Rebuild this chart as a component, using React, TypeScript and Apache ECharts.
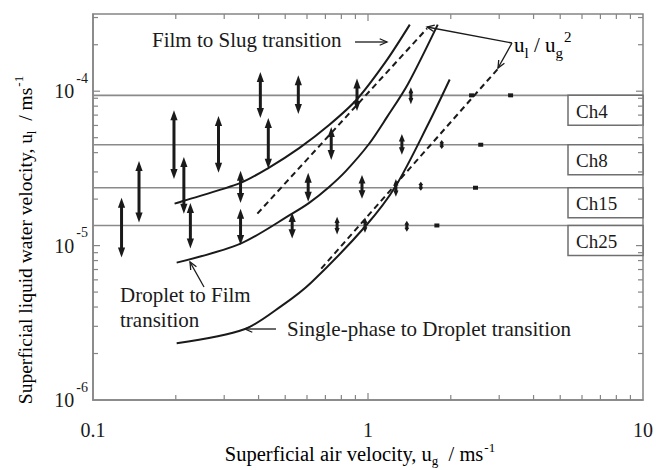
import React, { useEffect, useRef } from "react";
import * as echarts from "echarts";

const FONT = "Liberation Serif, Times New Roman, serif";
const INK = "#1a1a1a";
const AXIS = "#858585";
const LEVEL = "#8a8a8a";

// Channel water-supply levels, u_l (m/s)
const channelNames = ["Ch4", "Ch8", "Ch15", "Ch25"];
const channelLevels = [9.4e-5, 4.5e-5, 2.37e-5, 1.35e-5];

// Fluctuation ranges per channel: [u_g, u_l low, u_l high]
const ch4Ranges = [
  [0.406, 6.7e-5, 1.33e-4],
  [0.558, 7.11e-5, 1.27e-4],
  [0.912, 7.43e-5, 1.21e-4],
  [1.432, 8.24e-5, 1.06e-4],
];
const ch8Ranges = [
  [0.197, 2.7e-5, 7.53e-5],
  [0.286, 2.96e-5, 6.9e-5],
  [0.434, 3.14e-5, 6.7e-5],
  [0.735, 3.59e-5, 5.86e-5],
  [1.328, 3.87e-5, 5.29e-5],
  [1.854, 4.23e-5, 4.83e-5],
];
const ch15Ranges = [
  [0.147, 1.41e-5, 3.53e-5],
  [0.214, 1.61e-5, 3.75e-5],
  [0.344, 1.89e-5, 3.05e-5],
  [0.606, 1.92e-5, 2.96e-5],
  [0.951, 2.01e-5, 2.87e-5],
  [1.263, 2.07e-5, 2.7e-5],
  [1.556, 2.27e-5, 2.59e-5],
];
const ch25Ranges = [
  [0.127, 8.37e-6, 2.04e-5],
  [0.226, 9.57e-6, 1.89e-5],
  [0.344, 1.01e-5, 1.73e-5],
  [0.53, 1.11e-5, 1.63e-5],
  [0.772, 1.18e-5, 1.54e-5],
  [0.975, 1.21e-5, 1.52e-5],
  [1.384, 1.23e-5, 1.45e-5],
];

// Air velocities where the level stayed steady
const ch4Steady = [2.38, 3.3];
const ch8Steady = [2.57];
const ch15Steady = [2.46];
const ch25Steady = [1.78];

// Flow-regime transition boundaries [u_g, u_l]
const filmToSlug = [
  [0.198, 1.87e-5], [0.214, 1.95e-5], [0.344, 2.55e-5], [0.434, 3.18e-5],
  [0.562, 4.28e-5], [0.722, 6.04e-5], [0.912, 8.87e-5], [1.162, 1.56e-4],
  [1.419, 2.7e-4],
];
const dropletToFilm = [
  [0.2015, 7.76e-6], [0.344, 1.03e-5], [0.53, 1.61e-5], [0.611, 1.89e-5],
  [0.722, 2.4e-5], [0.832, 3.05e-5], [1.008, 4.55e-5], [1.172, 6.79e-5],
  [1.396, 1.11e-4], [1.793, 2.7e-4],
];
const singleToDroplet = [
  [0.2015, 2.33e-6], [0.355, 2.87e-6], [0.488, 4.1e-6], [0.622, 5.77e-6],
  [0.984, 1.35e-5], [1.263, 2.44e-5], [1.663, 6.22e-5], [1.982, 1.19e-4],
];

// Constant u_l / u_g^2 reference lines
const ratioUpper = [[0.396, 1.61e-5], [1.64, 2.55e-4]];
const ratioLower = [[0.676, 7.1e-6], [2.96, 1.39e-4]];

// Axis ranges and ticks
const xMin = 0.1;
const xMax = 10;
const yMin = 1e-6;
const yMax = 3.1623e-4;
const xMinorTicks = [0.2, 0.3, 0.4, 0.5, 0.6, 0.7, 0.8, 0.9, 2, 3, 4, 5, 6, 7, 8, 9];
const xMajorTicks = [1];
const yMinorTicks = [
  2e-6, 3e-6, 4e-6, 5e-6, 6e-6, 7e-6, 8e-6, 9e-6,
  2e-5, 3e-5, 4e-5, 5e-5, 6e-5, 7e-5, 8e-5, 9e-5,
  2e-4, 3e-4,
];
const yMajorTicks = [1e-5, 1e-4];
const xTickLabels: Record<string, string> = { "-1": "0.1", "0": "1", "1": "10" };

function isDecade(v: number) {
  const l = Math.log10(v);
  return Math.abs(l - Math.round(l)) < 1e-6;
}

function arrowItem(params: any, api: any) {
  const x = api.value(0);
  const lo = api.value(1);
  const hi = api.value(2);
  const a = api.coord([x, hi]);
  const b = api.coord([x, lo]);
  const cx = a[0];
  const len = b[1] - a[1];
  if (len < 6) {
    const mid = (a[1] + b[1]) / 2;
    return {
      type: "rect",
      shape: { x: cx - 2.5, y: mid - 2, width: 5, height: 4 },
      style: { fill: INK },
    };
  }
  const h = Math.min(10, len * 0.36);
  const w = Math.min(3.6, Math.max(2.4, h * 0.4));
  return {
    type: "group",
    children: [
      {
        type: "line",
        shape: { x1: cx, y1: a[1] + h * 0.7, x2: cx, y2: b[1] - h * 0.7 },
        style: { stroke: INK, lineWidth: 3 },
      },
      {
        type: "polygon",
        shape: { points: [[cx, a[1]], [cx - w, a[1] + h], [cx + w, a[1] + h]] },
        style: { fill: INK },
      },
      {
        type: "polygon",
        shape: { points: [[cx, b[1]], [cx - w, b[1] - h], [cx + w, b[1] - h]] },
        style: { fill: INK },
      },
    ],
  };
}

function xTickItem(len: number) {
  return (params: any, api: any) => {
    const cs = params.coordSys;
    const px = api.coord([api.value(0), api.value(1)])[0];
    const bottom = cs.y + cs.height;
    return {
      type: "group",
      children: [
        { type: "line", shape: { x1: px, y1: bottom, x2: px, y2: bottom - len }, style: { stroke: AXIS, lineWidth: 1.2 } },
        { type: "line", shape: { x1: px, y1: cs.y, x2: px, y2: cs.y + len }, style: { stroke: AXIS, lineWidth: 1.2 } },
      ],
    };
  };
}

function yTickItem(len: number) {
  return (params: any, api: any) => {
    const cs = params.coordSys;
    const py = api.coord([api.value(0), api.value(1)])[1];
    const right = cs.x + cs.width;
    return {
      type: "group",
      children: [
        { type: "line", shape: { x1: cs.x, y1: py, x2: cs.x + len, y2: py }, style: { stroke: AXIS, lineWidth: 1.2 } },
        { type: "line", shape: { x1: right, y1: py, x2: right - len, y2: py }, style: { stroke: AXIS, lineWidth: 1.2 } },
      ],
    };
  };
}

function pointer(x1: number, y1: number, x2: number, y2: number, head = 8) {
  const ang = Math.atan2(y2 - y1, x2 - x1);
  const spread = 0.42;
  const p1 = [x2 - head * Math.cos(ang - spread), y2 - head * Math.sin(ang - spread)];
  const p2 = [x2 - head * Math.cos(ang + spread), y2 - head * Math.sin(ang + spread)];
  return {
    type: "group",
    children: [
      { type: "line", shape: { x1, y1, x2, y2 }, style: { stroke: INK, lineWidth: 1.3 } },
      { type: "polyline", shape: { points: [p1, [x2, y2], p2] }, style: { stroke: INK, lineWidth: 1.3, fill: null } },
    ],
  };
}

// Rich styles: a base run centred in a tall line, with small runs pinned
// to the bottom (subscript) or top (superscript) of that line.
function scriptRich(size: number, small: number, lineH: number) {
  return {
    n: { fontSize: size, fontFamily: FONT, color: INK, lineHeight: lineH, verticalAlign: "middle" },
    sub: { fontSize: small, fontFamily: FONT, color: INK, lineHeight: small, verticalAlign: "bottom" },
    sup: { fontSize: small, fontFamily: FONT, color: INK, lineHeight: small, verticalAlign: "top", padding: [0, 0, 0, 1] },
  };
}

function plainText(text: string, x: number, y: number, size = 21) {
  return {
    type: "text",
    x,
    y,
    style: {
      text,
      fontSize: size,
      fontFamily: FONT,
      font: `${size}px ${FONT}`,
      fill: INK,
      align: "left",
      verticalAlign: "middle",
    },
  };
}

function buildOption(): any {
  const rangeSeries = [ch4Ranges, ch8Ranges, ch15Ranges, ch25Ranges];
  const steadySeries = [ch4Steady, ch8Steady, ch15Steady, ch25Steady];

  const series: any[] = [];

  channelLevels.forEach((lvl, i) => {
    series.push({
      type: "line",
      name: channelNames[i],
      data: [[xMin, lvl], [xMax, lvl]],
      symbol: "none",
      silent: true,
      z: 1,
      lineStyle: { color: LEVEL, width: 1.6 },
    });
  });

  const curve = (data: number[][], dashed = false) => ({
    type: "line",
    data,
    symbol: "none",
    smooth: dashed ? false : 0.3,
    silent: true,
    z: 3,
    lineStyle: { color: INK, width: 2, type: dashed ? [6, 4] : "solid" },
  });
  series.push(curve(filmToSlug));
  series.push(curve(dropletToFilm));
  series.push(curve(singleToDroplet));
  series.push(curve(ratioUpper, true));
  series.push(curve(ratioLower, true));

  rangeSeries.forEach((ranges, i) => {
    const lvl = channelLevels[i];
    const data = ranges.concat(steadySeries[i].map((x) => [x, lvl, lvl]));
    series.push({
      type: "custom",
      name: channelNames[i] + " range",
      data,
      encode: { x: 0, y: [1, 2] },
      renderItem: arrowItem,
      silent: true,
      z: 4,
    });
  });

  series.push({
    type: "custom",
    data: channelLevels.map((lvl) => [xMax, lvl]),
    encode: { x: 0, y: 1 },
    clip: false,
    silent: true,
    z: 6,
    renderItem: (params: any, api: any) => {
      const p = api.coord([api.value(0), api.value(1)]);
      const w = 75;
      const h = 30;
      return {
        type: "group",
        children: [
          {
            type: "rect",
            shape: { x: p[0] - w, y: p[1], width: w, height: h },
            style: { fill: "#ffffff", stroke: "#6f6f6f", lineWidth: 1.5 },
          },
          {
            type: "text",
            style: {
              x: p[0] - w + 8,
              y: p[1] + h / 2 + 1,
              text: channelNames[params.dataIndex],
              fontSize: 19,
              fontFamily: FONT,
              font: `19px ${FONT}`,
              fill: INK,
              align: "left",
              verticalAlign: "middle",
            },
          },
        ],
      };
    },
  });

  const tickSeries = (data: number[][], render: any) => ({
    type: "custom",
    data,
    encode: { x: 0, y: 1 },
    clip: false,
    silent: true,
    z: 7,
    renderItem: render,
  });
  series.push(tickSeries(xMinorTicks.map((v) => [v, yMin]), xTickItem(5)));
  series.push(tickSeries(xMajorTicks.map((v) => [v, yMin]), xTickItem(7)));
  series.push(tickSeries(yMinorTicks.map((v) => [xMin, v]), yTickItem(5)));
  series.push(tickSeries(yMajorTicks.map((v) => [xMin, v]), yTickItem(7)));

  return {
    animation: false,
    backgroundColor: "#ffffff",
    grid: {
      left: 93,
      right: 11,
      top: 14,
      bottom: 70,
      show: true,
      borderColor: AXIS,
      borderWidth: 1.5,
      backgroundColor: "transparent",
    },
    xAxis: {
      type: "log",
      logBase: 10,
      min: xMin,
      max: xMax,
      axisLine: { show: true, lineStyle: { color: AXIS, width: 1.5 } },
      axisTick: { show: false },
      splitLine: { show: false },
      axisLabel: {
        margin: 20,
        fontSize: 20,
        fontFamily: FONT,
        color: INK,
        formatter: (v: number) => (isDecade(v) ? xTickLabels[String(Math.round(Math.log10(v)))] || "" : ""),
      },
    },
    yAxis: {
      type: "log",
      logBase: 10,
      min: yMin,
      max: yMax,
      axisLine: { show: true, lineStyle: { color: AXIS, width: 1.5 } },
      axisTick: { show: false },
      splitLine: { show: false },
      axisLabel: {
        margin: 5,
        formatter: (v: number) => (isDecade(v) ? `{b|10}{s|-${-Math.round(Math.log10(v))}}` : ""),
        rich: {
          b: { fontSize: 20, fontFamily: FONT, color: INK, lineHeight: 40, verticalAlign: "middle" },
          s: { fontSize: 14, fontFamily: FONT, color: INK, lineHeight: 14, padding: [0, 0, 0, 2], verticalAlign: "top" },
        },
      },
    },
    graphic: [
      plainText("Film to Slug transition", 152, 40),
      pointer(355, 42, 387, 42),
      {
        type: "text",
        x: 514,
        y: 45,
        style: {
          text: "{n|u}{sub|l}{n| / u}{sub|g}{sup|2}",
          rich: scriptRich(21, 15, 31),
          align: "left",
          verticalAlign: "middle",
        },
      },
      pointer(512, 43, 427, 27),
      pointer(512, 43, 498, 68),
      plainText("Droplet to Film", 120, 295),
      plainText("transition", 120, 320),
      pointer(204, 287, 190, 262),
      plainText("Single-phase to Droplet transition", 287, 329),
      pointer(276, 329, 245, 329),
      {
        type: "text",
        x: 360,
        y: 454,
        style: {
          text: "{n|Superficial air velocity, u}{sub|g}{n|  / ms}{sup|-1}",
          rich: scriptRich(20.5, 13, 26),
          align: "center",
          verticalAlign: "middle",
        },
      },
      {
        type: "text",
        x: 25,
        y: 240,
        rotation: Math.PI / 2,
        style: {
          text: "{n|Superficial liquid water velocity, u}{sub|l}{n|  / ms}{sup|-1}",
          rich: scriptRich(19.5, 13, 26),
          align: "center",
          verticalAlign: "middle",
        },
      },
    ],
    series,
  };
}

export default function App() {
  const ref = useRef<HTMLDivElement>(null);
  useEffect(() => {
    if (!ref.current) return;
    const chart = echarts.init(ref.current, undefined, { renderer: "svg" });
    chart.setOption(buildOption());
    return () => chart.dispose();
  }, []);
  return (
    <div
      ref={ref}
      style={{ position: "fixed", left: 0, top: 0, width: 656, height: 470, background: "#ffffff" }}
    />
  );
}
